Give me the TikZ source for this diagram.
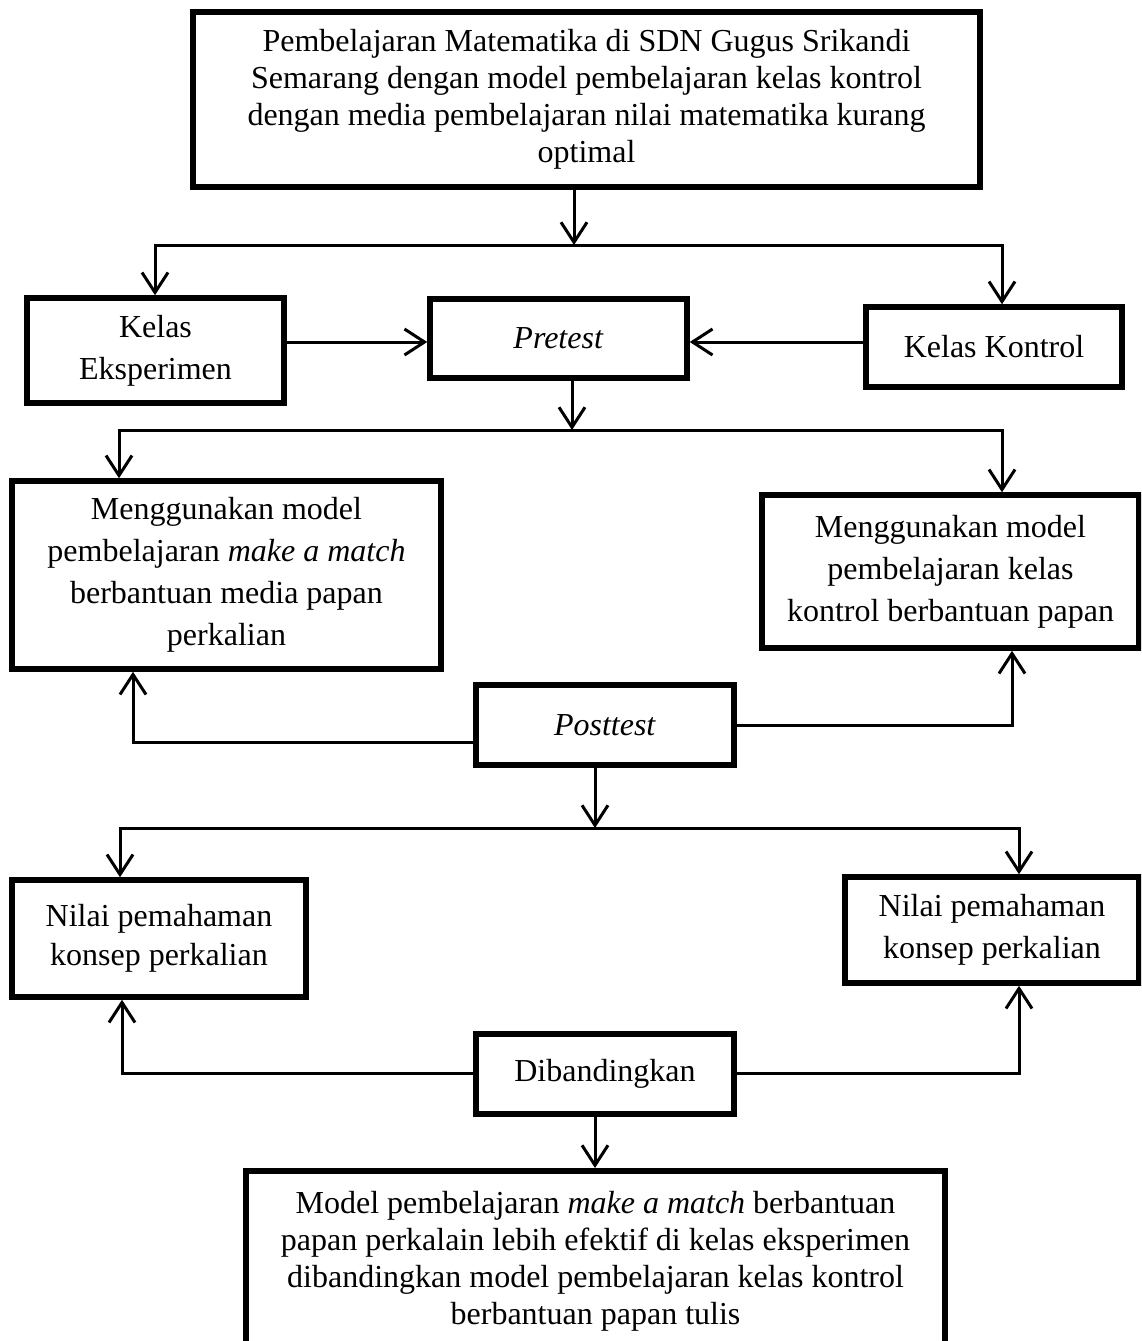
\documentclass[tikz,border=0pt]{standalone}
\usepackage{fontspec}
\setmainfont{Liberation Serif}
\usetikzlibrary{arrows.meta}
\begin{document}
\begin{tikzpicture}[x=1pt,y=-1pt,
  box/.style={draw, line width=5.5pt, inner sep=0pt, align=center, font=\fontsize{32}{42}\selectfont},
  conn/.style={line width=3pt},
  arr/.style={conn, -{Straight Barb[length=20pt,width=26pt]}},
]
\clip (0,0) rectangle (1141,1341);
\fill[white] (0,0) rectangle (1141,1341);

\node[box, minimum width=787pt, minimum height=175pt, font=\fontsize{32}{37}\selectfont] (top) at (586.5,99.5)
  {Pembelajaran Matematika di SDN Gugus Srikandi\\Semarang dengan model pembelajaran kelas kontrol\\dengan media pembelajaran nilai matematika kurang\\optimal};
\node[box, minimum width=257pt, minimum height=105pt] (eks) at (155.5,350.5) {Kelas\\Eksperimen};
\node[box, minimum width=257pt, minimum height=79pt] (pre) at (558.5,338.5) {\textit{Pretest}};
\node[box, minimum width=256pt, minimum height=80pt] (kon) at (994,347) {Kelas Kontrol};
\node[box, minimum width=429pt, minimum height=188pt] (mL) at (226.5,575)
  {Menggunakan model\\pembelajaran \textit{make a match}\\berbantuan media papan\\perkalian};
\node[box, minimum width=377pt, minimum height=153pt] (mR) at (950.5,571.5)
  {Menggunakan model\\pembelajaran kelas\\kontrol berbantuan papan};
\node[box, minimum width=258pt, minimum height=80pt] (post) at (605,725) {\textit{Posttest}};
\node[box, minimum width=294pt, minimum height=117pt, font=\fontsize{32}{39}\selectfont] (nL) at (159,938.5)
  {Nilai pemahaman\\konsep perkalian};
\node[box, minimum width=294pt, minimum height=106pt] (nR) at (992,930)
  {Nilai pemahaman\\konsep perkalian};
\node[box, minimum width=258pt, minimum height=80pt] (dib) at (605,1074) {Dibandingkan};
\node[draw, line width=5.5pt, inner sep=0pt, minimum width=699pt, minimum height=260pt, anchor=north] (bot) at (595.5,1168) {};
\node[align=center, inner sep=0pt, font=\fontsize{32}{37}\selectfont] (botText) at (595.5,1261)
  {Model pembelajaran \textit{make a match} berbantuan\\papan perkalain lebih efektif di kelas eksperimen\\dibandingkan model pembelajaran kelas kontrol\\berbantuan papan tulis};

% top -> split
\coordinate (j1) at (574,245);
\coordinate (j1L) at (155,245);
\coordinate (j1R) at (1002,245);
\draw[arr] (top.south -| j1) -- (j1);
\draw[arr] (j1R) -- (j1L) -- (eks.north -| j1L);
\draw[arr] (j1L) -- (j1R) -- (kon.north -| j1R);

% classes -> pretest
\coordinate (yp) at (0,342);
\draw[arr] (eks.east |- yp) -- (pre.west |- yp);
\draw[arr] (kon.west |- yp) -- (pre.east |- yp);

% pretest -> split
\coordinate (j2) at (572,430);
\coordinate (j2L) at (119,430);
\coordinate (j2R) at (1002,430);
\draw[arr] (pre.south -| j2) -- (j2);
\draw[arr] (j2R) -- (j2L) -- (mL.north -| j2L);
\draw[arr] (j2L) -- (j2R) -- (mR.north -| j2R);

% posttest -> models
\coordinate (p1) at (133,742);
\coordinate (p2) at (1012,725);
\draw[arr] (post.west |- p1) -- (p1) -- (mL.south -| p1);
\draw[arr] (post.east |- p2) -- (p2) -- (mR.south -| p2);

% posttest -> split
\coordinate (j3) at (595,828);
\coordinate (j3L) at (120,828);
\coordinate (j3R) at (1019,828);
\draw[arr] (post.south -| j3) -- (j3);
\draw[arr] (j3R) -- (j3L) -- (nL.north -| j3L);
\draw[arr] (j3L) -- (j3R) -- (nR.north -| j3R);

% dibandingkan
\coordinate (d1) at (122,1073);
\coordinate (d2) at (1019,1073);
\draw[arr] (dib.west |- d1) -- (d1) -- (nL.south -| d1);
\draw[arr] (dib.east |- d2) -- (d2) -- (nR.south -| d2);
\draw[arr] (dib.south -| j3) -- (bot.north -| j3);
\end{tikzpicture}
\end{document}
